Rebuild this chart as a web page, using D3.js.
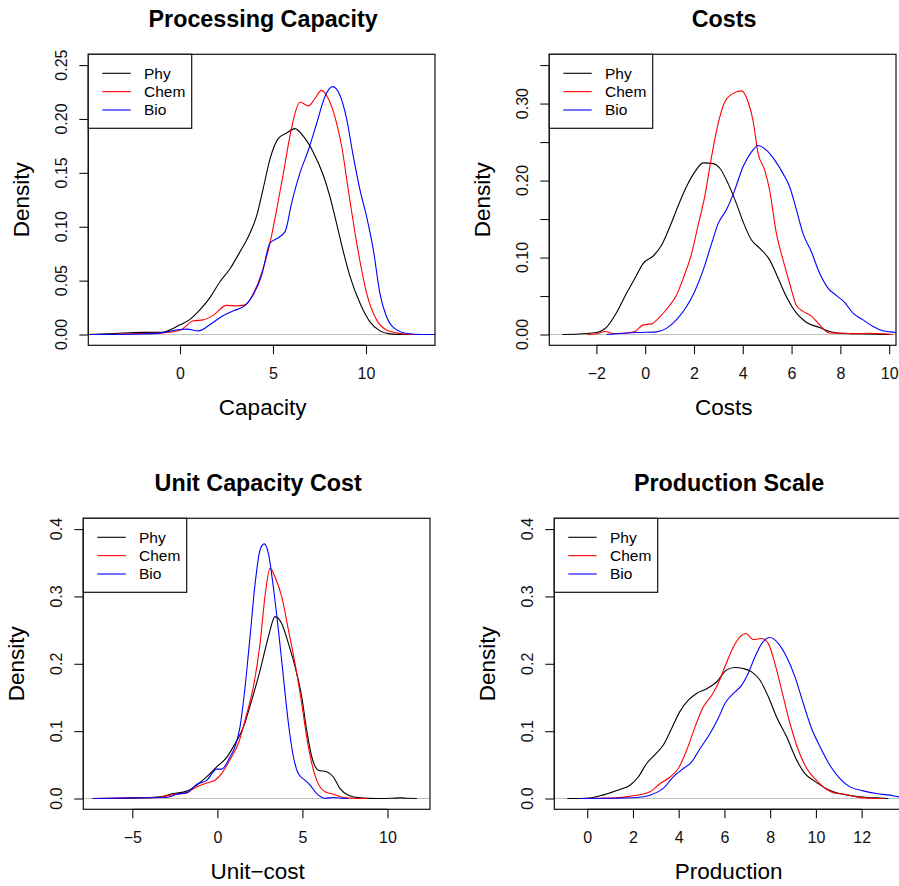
<!DOCTYPE html>
<html>
<head>
<meta charset="utf-8">
<script src="https://cdn.jsdelivr.net/npm/d3@7"></script>
<style>
  html, body { margin: 0; padding: 0; background: #fff; }
  svg { display: block; font-family: "Liberation Sans", Arial, Helvetica, sans-serif; }
</style>
</head>
<body>
<svg id="chart" width="899" height="886"></svg>
<script>
// Kernel density estimates, read as [x, density] pairs for each group.
const groups = ["Phy", "Chem", "Bio"];
const groupColors = ["#000000", "#ff0000", "#0000ff"];

// Processing Capacity
const capPhy = [[-5,0],[-3.5,0.001],[-2,0.002],[-1,0.002],[0,0.009],[0.54,0.014],[1.08,0.023],[1.6,0.034],[2.15,0.049],[2.69,0.061],[3.2,0.076],[3.76,0.094],[4.12,0.11],[4.48,0.136],[4.84,0.163],[5.29,0.182],[5.73,0.187],[6.18,0.191],[6.63,0.184],[7.17,0.169],[7.7,0.148],[8.06,0.128],[8.42,0.103],[8.78,0.077],[9.14,0.054],[9.68,0.029],[10.2,0.012],[10.75,0.0034],[11.3,0.0006],[11.8,0],[14,0]];
const capChem = [[-5,0],[-3,0.0005],[-2,0.001],[-1,0.0015],[0,0.004],[0.72,0.0127],[1.25,0.0136],[1.8,0.018],[2.5,0.027],[3.05,0.0266],[3.5,0.0275],[3.94,0.038],[4.39,0.057],[4.84,0.085],[5.2,0.116],[5.56,0.15],[5.91,0.184],[6.18,0.205],[6.45,0.2157],[6.9,0.212],[7.26,0.219],[7.6,0.2265],[7.97,0.219],[8.33,0.202],[8.7,0.174],[9.05,0.134],[9.5,0.085],[10.04,0.038],[10.57,0.0136],[11.1,0.0043],[11.83,0.001],[12.5,0],[14,0]];
const capBio = [[-5,0],[-2,0.0005],[-1,0.0015],[0,0.0046],[0.36,0.005],[0.99,0.0034],[1.6,0.009],[2.24,0.0167],[2.87,0.022],[3.5,0.027],[3.94,0.037],[4.39,0.055],[4.84,0.085],[5.2,0.089],[5.65,0.0955],[6.0,0.122],[6.45,0.15],[6.9,0.171],[7.35,0.196],[7.8,0.221],[8.2,0.23],[8.6,0.222],[8.96,0.2],[9.32,0.165],[9.68,0.134],[10.04,0.109],[10.4,0.078],[10.75,0.038],[11.1,0.0167],[11.65,0.0043],[12.2,0.001],[13,0],[14,0]];

// Costs
const costPhy = [[-3.39,0],[-2.54,0.001],[-2.0,0.0026],[-1.58,0.0095],[-1.17,0.0285],[-0.76,0.054],[-0.42,0.073],[-0.08,0.0925],[0.33,0.102],[0.67,0.116],[1.01,0.14],[1.42,0.1725],[1.69,0.192],[2.03,0.211],[2.38,0.223],[2.79,0.222],[3.06,0.216],[3.4,0.196],[3.74,0.17],[4.01,0.1466],[4.35,0.123],[4.7,0.112],[5.1,0.097],[5.45,0.073],[5.79,0.049],[6.2,0.0277],[6.6,0.016],[7.15,0.009],[7.56,0.0039],[7.97,0.0017],[8.66,0.001],[9.47,0.0004],[10.0,0]];
const costChem = [[-2.36,0],[-2.0,0.001],[-1.65,0.004],[-1.31,0.0013],[-0.9,0.0017],[-0.42,0.004],[-0.08,0.0125],[0.26,0.0138],[0.6,0.023],[1.01,0.038],[1.28,0.051],[1.56,0.073],[1.9,0.105],[2.17,0.142],[2.44,0.179],[2.72,0.231],[2.99,0.274],[3.26,0.302],[3.54,0.312],[3.95,0.3165],[4.22,0.302],[4.42,0.278],[4.63,0.235],[4.9,0.2136],[5.1,0.1876],[5.38,0.131],[5.65,0.097],[5.92,0.0666],[6.2,0.0376],[6.47,0.03],[6.81,0.0242],[7.15,0.0125],[7.56,0.002],[8.1,0.0017],[8.66,0.001],[9.2,0.0017],[9.75,0.001],[10.16,0]];
const costBio = [[-1.58,0],[-1.17,0.001],[-0.35,0.0026],[0.46,0.0035],[0.87,0.008],[1.28,0.019],[1.69,0.036],[2.03,0.056],[2.38,0.084],[2.72,0.118],[2.99,0.144],[3.33,0.162],[3.67,0.1876],[4.01,0.218],[4.35,0.237],[4.63,0.2456],[4.97,0.2395],[5.31,0.2265],[5.65,0.209],[5.92,0.192],[6.2,0.162],[6.47,0.131],[6.81,0.1076],[7.15,0.0795],[7.5,0.06],[7.84,0.0506],[8.18,0.0415],[8.52,0.0277],[8.93,0.019],[9.34,0.0104],[9.75,0.0048],[10.29,0.0026],[10.8,0.001]];

// Unit Capacity Cost
const unitPhy = [[-7.33,0],[-5.92,0],[-4.55,0.001],[-3.37,0.0025],[-2.59,0.0074],[-1.8,0.011],[-1.22,0.0198],[-0.63,0.032],[-0.04,0.047],[0.55,0.061],[0.94,0.077],[1.53,0.106],[2.02,0.146],[2.51,0.19],[3.0,0.24],[3.39,0.27],[3.78,0.26],[4.18,0.23],[4.57,0.1955],[4.96,0.151],[5.25,0.1015],[5.55,0.062],[5.94,0.042],[6.43,0.0396],[6.82,0.032],[7.2,0.015],[7.7,0.005],[8.39,0.001],[9.37,0],[10.2,0.0003],[10.75,0.001],[11.2,0.0003],[11.73,0]];
const unitChem = [[-7.33,0],[-4.94,0.001],[-3.37,0.002],[-2.59,0.006],[-1.8,0.009],[-1.22,0.017],[-0.63,0.023],[-0.14,0.027],[0.25,0.037],[0.75,0.058],[1.24,0.082],[1.73,0.126],[2.12,0.166],[2.51,0.23],[2.8,0.3],[3.1,0.3416],[3.39,0.329],[3.78,0.3],[4.18,0.25],[4.57,0.2],[4.96,0.141],[5.25,0.0916],[5.55,0.052],[5.84,0.027],[6.33,0.01],[6.82,0.0064],[7.41,0.0015],[8.0,0.0005],[8.78,0]];
const unitBio = [[-7.33,0],[-4.94,0.001],[-2.98,0.0015],[-2.39,0.0064],[-1.8,0.0084],[-1.22,0.021],[-0.63,0.027],[-0.04,0.0436],[0.25,0.0436],[0.75,0.062],[1.04,0.077],[1.33,0.106],[1.63,0.166],[1.92,0.24],[2.22,0.319],[2.51,0.369],[2.75,0.378],[3.0,0.364],[3.29,0.314],[3.59,0.25],[3.88,0.181],[4.18,0.111],[4.47,0.062],[4.76,0.037],[5.16,0.027],[5.45,0.0198],[5.84,0.0074],[6.33,0.0005],[6.82,0.0015],[7.41,0.0003],[7.7,0]];

// Production Scale
const prodPhy = [[-0.87,0],[0,0.0005],[0.55,0.004],[0.99,0.0084],[1.43,0.0134],[1.87,0.0198],[2.23,0.032],[2.6,0.052],[2.96,0.065],[3.32,0.079],[3.69,0.104],[4.05,0.129],[4.42,0.146],[4.78,0.156],[5.22,0.163],[5.66,0.173],[6.1,0.191],[6.46,0.1946],[6.82,0.193],[7.19,0.188],[7.55,0.176],[7.92,0.151],[8.28,0.121],[8.72,0.0916],[9.16,0.057],[9.52,0.037],[9.89,0.027],[10.32,0.0173],[10.76,0.01],[11.2,0.0064],[11.64,0.0035],[12.22,0.0015],[12.95,0.0005],[13.17,0]];
const prodChem = [[-0.32,0],[0.55,0.0005],[1.28,0.001],[2.01,0.004],[2.74,0.01],[3.18,0.022],[3.62,0.032],[3.98,0.0446],[4.35,0.072],[4.71,0.106],[5.07,0.136],[5.44,0.153],[5.73,0.171],[6.02,0.1955],[6.39,0.225],[6.68,0.24],[6.94,0.245],[7.26,0.236],[7.63,0.2376],[7.92,0.23],[8.21,0.2],[8.5,0.161],[8.87,0.111],[9.23,0.072],[9.6,0.0446],[10.03,0.027],[10.47,0.0134],[10.91,0.0074],[11.34,0.006],[11.78,0.0025],[12.37,0.0005],[12.95,0]];
const prodBio = [[-0.32,0],[1.28,0.0005],[2.16,0.0015],[2.74,0.005],[3.32,0.015],[3.76,0.032],[4.2,0.0446],[4.56,0.054],[4.93,0.074],[5.37,0.0965],[5.73,0.119],[6.02,0.141],[6.39,0.156],[6.75,0.168],[7.04,0.186],[7.33,0.21],[7.63,0.23],[7.99,0.239],[8.36,0.23],[8.72,0.21],[9.08,0.181],[9.45,0.141],[9.81,0.104],[10.18,0.077],[10.61,0.0495],[11.05,0.0297],[11.49,0.0173],[12.07,0.0114],[12.66,0.0074],[13.24,0.005],[13.63,0.0025],[14,0.0015]];

// Axis ticks and labels
const capXTicks = [0, 5, 10];
const capYTicks = [0, 0.05, 0.10, 0.15, 0.20, 0.25];
const capYLabels = ["0.00", "0.05", "0.10", "0.15", "0.20", "0.25"];
const costXTicks = [-2, 0, 2, 4, 6, 8, 10];
const costYTicks = [0, 0.05, 0.10, 0.15, 0.20, 0.25, 0.30, 0.35];
const costYLabels = ["0.00", "", "0.10", "", "0.20", "", "0.30", ""];
const unitXTicks = [-5, 0, 5, 10];
const densYTicks = [0, 0.1, 0.2, 0.3, 0.4];
const densYLabels = ["0.0", "0.1", "0.2", "0.3", "0.4"];
const prodXTicks = [0, 2, 4, 6, 8, 10, 12];

const titles = ["Processing Capacity", "Costs", "Unit Capacity Cost", "Production Scale"];
const xLabels = ["Capacity", "Costs", "Unit\u2212cost", "Production"];

// Panel layout (plot region in pixels) and axis limits
const panels = [
  { left: 88.3,  top: 54.3,  xDom: [-4.93, 13.71], yDom: [-0.01, 0.26],
    series: [capPhy, capChem, capBio], xTicks: capXTicks, yTicks: capYTicks, yLabels: capYLabels },
  { left: 549.3, top: 54.3,  xDom: [-3.93, 10.28], yDom: [-0.014, 0.364],
    series: [costPhy, costChem, costBio], xTicks: costXTicks, yTicks: costYTicks, yLabels: costYLabels },
  { left: 83.3,  top: 518.3, xDom: [-7.88, 12.5], yDom: [-0.016, 0.416],
    series: [unitPhy, unitChem, unitBio], xTicks: unitXTicks, yTicks: densYTicks, yLabels: densYLabels },
  { left: 554.3, top: 518.3, xDom: [-1.44, 13.72], yDom: [-0.016, 0.416],
    series: [prodPhy, prodChem, prodBio], xTicks: prodXTicks, yTicks: densYTicks, yLabels: densYLabels }
];
const plotW = 346.7, plotH = 291;

const svg = d3.select("#chart");
const fmtX = d3.format("d");

panels.forEach((p, i) => {
  const g = svg.append("g").attr("transform", `translate(${p.left},${p.top})`);
  const x = d3.scaleLinear().domain(p.xDom).range([0, plotW]);
  const y = d3.scaleLinear().domain(p.yDom).range([plotH, 0]);

  const clipId = "clip" + i;
  g.append("clipPath").attr("id", clipId)
    .append("rect").attr("width", plotW).attr("height", plotH);

  // zero line
  g.append("line")
    .attr("x1", 0).attr("x2", plotW)
    .attr("y1", y(0)).attr("y2", y(0))
    .attr("stroke", "#bebebe").attr("stroke-width", 1);

  // density curves
  const line = d3.line()
    .x(d => x(d[0])).y(d => y(d[1]))
    .curve(d3.curveMonotoneX);
  const curves = g.append("g").attr("clip-path", `url(#${clipId})`);
  p.series.forEach((s, k) => {
    curves.append("path")
      .attr("d", line(s))
      .attr("fill", "none")
      .attr("stroke", groupColors[k])
      .attr("stroke-width", 1.1);
  });

  // plot box
  g.append("rect")
    .attr("width", plotW).attr("height", plotH)
    .attr("fill", "none").attr("stroke", "#111").attr("stroke-width", 1.2);

  // x axis
  const xAxis = d3.axisBottom(x)
    .tickValues(p.xTicks)
    .tickSize(9).tickSizeOuter(0).tickPadding(13.5)
    .tickFormat(fmtX);
  const gx = g.append("g").attr("transform", `translate(0,${plotH})`).call(xAxis);
  gx.select(".domain").remove();
  gx.append("line")
    .attr("x1", x(p.xTicks[0])).attr("x2", x(p.xTicks[p.xTicks.length - 1]))
    .attr("stroke", "#111").attr("stroke-width", 1.2);
  gx.selectAll(".tick line").attr("stroke", "#111").attr("stroke-width", 1.1);
  gx.selectAll(".tick text")
    .attr("font-size", 16).attr("fill", "#111")
    .attr("font-family", "Liberation Sans, Arial, sans-serif");

  // y axis
  const yAxis = d3.axisLeft(y)
    .tickValues(p.yTicks)
    .tickSize(9).tickSizeOuter(0)
    .tickFormat("");
  const gy = g.append("g").call(yAxis);
  gy.select(".domain").remove();
  gy.append("line")
    .attr("y1", y(p.yTicks[0])).attr("y2", y(p.yTicks[p.yTicks.length - 1]))
    .attr("stroke", "#111").attr("stroke-width", 1.2);
  gy.selectAll(".tick line").attr("stroke", "#111").attr("stroke-width", 1.1);
  g.selectAll(".ylab")
    .data(p.yTicks.map((v, j) => ({ v, t: p.yLabels[j] })).filter(d => d.t !== ""))
    .join("text")
    .attr("class", "ylab")
    .attr("transform", d => `translate(-21.5,${y(d.v)}) rotate(-90)`)
    .attr("text-anchor", "middle")
    .attr("font-size", 16).attr("fill", "#111")
    .text(d => d.t);

  // titles
  g.append("text")
    .attr("x", plotW / 2 + 1.5).attr("y", -27.3)
    .attr("text-anchor", "middle")
    .attr("font-size", 23.3).attr("font-weight", "bold")
    .text(titles[i]);
  g.append("text")
    .attr("x", plotW / 2 + 1).attr("y", plotH + 69.7)
    .attr("text-anchor", "middle")
    .attr("font-size", 22.5)
    .text(xLabels[i]);
  g.append("text")
    .attr("transform", `translate(-59.5,${plotH / 2}) rotate(-90)`)
    .attr("text-anchor", "middle")
    .attr("font-size", 22.5)
    .text("Density");

  // legend
  const lg = g.append("g");
  lg.append("rect")
    .attr("width", 103.4).attr("height", 74)
    .attr("fill", "#fff").attr("stroke", "#111").attr("stroke-width", 1.2);
  groups.forEach((name, k) => {
    const ry = 19 + k * 18.35;
    lg.append("line")
      .attr("x1", 14).attr("x2", 42.4).attr("y1", ry).attr("y2", ry)
      .attr("stroke", groupColors[k]).attr("stroke-width", 1.1);
    lg.append("text")
      .attr("x", 55.7).attr("y", ry).attr("dy", "0.35em")
      .attr("font-size", 15.5)
      .text(name);
  });
});
</script>
</body>
</html>
